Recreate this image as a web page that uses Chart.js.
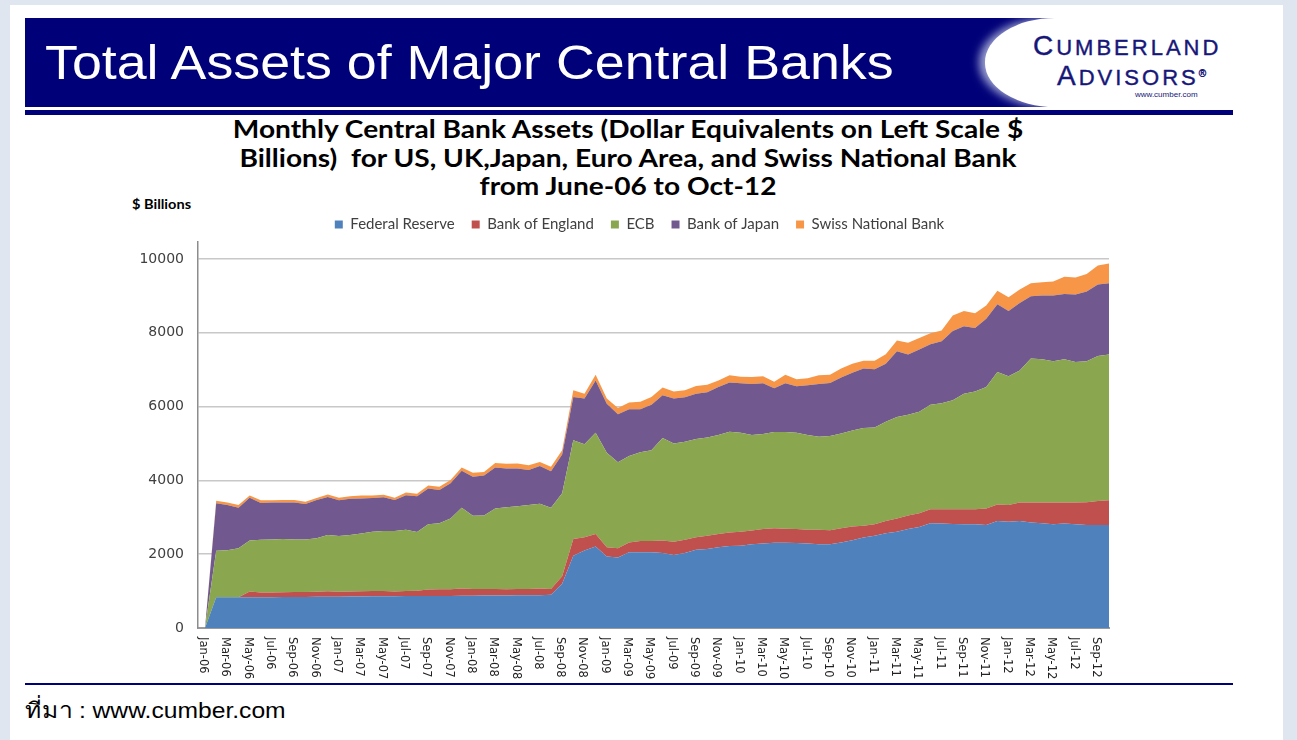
<!DOCTYPE html>
<html>
<head>
<meta charset="utf-8">
<script src="https://cdn.jsdelivr.net/npm/chart.js@4.4.1/dist/chart.umd.min.js"></script>
<style>
  body { margin: 0; width: 1297px; height: 740px; overflow: hidden; position: relative; background: #dfe6ef; }
  .abs { position: absolute; }
  #slide { left: 10px; top: 5px; width: 1273px; height: 740px; background: #fff; }
  #banner { left: 25px; top: 18px; width: 1212px; height: 89px; background: #000078; overflow: hidden; }
  #bannerText { left: 20px; top: 21px; font: 48px "Liberation Sans", Arial, sans-serif; line-height: 48px; color: #fff; white-space: nowrap; transform: scaleX(1.12); transform-origin: left center; }
  #logo { left: 960px; top: 0px; width: 260px; height: 89px; background: #fff; border-radius: 70px 0 0 70px / 44px 0 0 44px; box-shadow: -6px 0 8px #9aa0d0; }
  .logoLine { font-family: "Liberation Sans", Arial, sans-serif; color: #17177a; letter-spacing: 3px; white-space: nowrap; -webkit-text-stroke: 0.4px #17177a; }
  #navyBar { left: 25px; top: 110px; width: 1208px; height: 5px; background: #000078; }
  #bottomLine { left: 25px; top: 683px; width: 1208px; height: 2px; background: #000078; }
  #footer { left: 25px; top: 693px; font: 22px "Liberation Sans", Arial, sans-serif; color: #000; transform: scaleX(1.12); transform-origin: left center; white-space: nowrap; }
  #chartTitle { left: 178px; top: 115px; width: 900px; text-align: center; font: bold 24px Lato, sans-serif; line-height: 28.5px; color: #000; transform: scaleX(1.17); transform-origin: 450px 0; white-space: nowrap; }
  #yTitle { left: 132px; top: 196px; font: bold 13px Lato, sans-serif; color: #000; transform: scaleX(1.12); transform-origin: left center; white-space: nowrap; }
  #chartBox { left: 100px; top: 200px; width: 1040px; height: 484px; }
</style>
</head>
<body>
<div id="slide" class="abs"></div>
<div id="banner" class="abs">
  <div id="bannerText" class="abs">Total Assets of Major Central Banks</div>
  <div id="logo" class="abs">
    <div class="abs logoLine" style="left:48px; top:12px; font-size:22px;"><span style="font-size:28px">C</span>UMBERLAND</div>
    <div class="abs logoLine" style="left:72px; top:42px; font-size:22px;"><span style="font-size:28px">A</span>DVISORS<sup style="font-size:10px; letter-spacing:0">®</sup></div>
    <div class="abs" style="left:150px; top:72px; font: 8px 'Liberation Sans', Arial, sans-serif; color:#17177a;">www.cumber.com</div>
  </div>
</div>
<div id="navyBar" class="abs"></div>
<div id="chartTitle" class="abs">Monthly Central Bank Assets (Dollar Equivalents on Left Scale $<br>Billions)&nbsp; for US, UK,Japan, Euro Area, and Swiss National Bank<br>from June-06 to Oct-12</div>
<div id="yTitle" class="abs">$ Billions</div>
<div id="chartBox" class="abs"><canvas id="assetsChart"></canvas></div>
<div id="bottomLine" class="abs"></div>
<div id="footer" class="abs">ที่มา : www.cumber.com</div>

<script>
// month labels, Jan-06 .. Oct-12
var labels = [
  'Jan-06','Feb-06','Mar-06','Apr-06','May-06','Jun-06','Jul-06','Aug-06','Sep-06','Oct-06','Nov-06','Dec-06',
  'Jan-07','Feb-07','Mar-07','Apr-07','May-07','Jun-07','Jul-07','Aug-07','Sep-07','Oct-07','Nov-07','Dec-07',
  'Jan-08','Feb-08','Mar-08','Apr-08','May-08','Jun-08','Jul-08','Aug-08','Sep-08','Oct-08','Nov-08','Dec-08',
  'Jan-09','Feb-09','Mar-09','Apr-09','May-09','Jun-09','Jul-09','Aug-09','Sep-09','Oct-09','Nov-09','Dec-09',
  'Jan-10','Feb-10','Mar-10','Apr-10','May-10','Jun-10','Jul-10','Aug-10','Sep-10','Oct-10','Nov-10','Dec-10',
  'Jan-11','Feb-11','Mar-11','Apr-11','May-11','Jun-11','Jul-11','Aug-11','Sep-11','Oct-11','Nov-11','Dec-11',
  'Jan-12','Feb-12','Mar-12','Apr-12','May-12','Jun-12','Jul-12','Aug-12','Sep-12','Oct-12'
];

// $ billions
var fed = [
  0,830,830,830,835,835,835,840,840,840,845,850,
  850,855,855,860,860,860,865,865,870,870,870,875,
  875,880,880,880,885,885,890,900,1200,1960,2100,2210,
  1940,1910,2050,2050,2050,2030,1980,2030,2120,2140,2190,2220,
  2230,2270,2290,2310,2310,2300,2290,2270,2270,2320,2380,2450,
  2500,2570,2610,2680,2740,2840,2830,2820,2810,2810,2790,2900,
  2880,2900,2860,2840,2810,2830,2810,2790,2790,2790
];
var boe = [
  0,0,0,0,155,130,130,130,135,135,140,145,
  135,135,140,140,140,130,140,145,170,180,180,195,
  185,180,180,170,170,175,180,160,200,450,360,340,
  250,250,270,310,310,340,360,360,340,360,360,370,
  380,370,390,390,380,380,370,390,380,380,370,320,
  310,330,360,370,370,380,390,400,410,410,450,450,
  450,500,540,560,590,570,590,620,650,670
];
var ecb = [
  0,1260,1280,1330,1380,1425,1435,1440,1425,1425,1445,1525,
  1505,1530,1565,1610,1630,1640,1655,1590,1770,1790,1920,2190,
  1980,1990,2180,2220,2245,2270,2300,2200,2250,2680,2520,2740,
  2560,2330,2340,2400,2460,2780,2660,2660,2660,2660,2680,2730,
  2680,2590,2580,2610,2620,2610,2570,2520,2550,2570,2600,2650,
  2620,2690,2750,2730,2750,2830,2870,2950,3130,3190,3290,3590,
  3490,3580,3900,3880,3830,3880,3810,3820,3930,3950
];
var boj = [
  0,1290,1220,1100,1160,1000,1000,990,1000,960,1040,1030,
  970,980,950,910,910,840,940,970,970,900,950,1000,
  1060,1080,1110,1050,1020,950,1020,990,1050,1170,1240,1420,
  1330,1300,1270,1170,1230,1160,1220,1200,1230,1230,1300,1330,
  1340,1380,1370,1190,1320,1260,1350,1430,1440,1520,1570,1610,
  1580,1570,1780,1630,1690,1640,1680,1880,1830,1720,1850,1830,
  1770,1830,1690,1730,1780,1770,1830,1890,1940,1930
];
var snb = [
  0,70,70,70,60,70,65,70,70,60,50,70,
  70,70,80,70,70,60,70,70,80,90,90,90,
  110,100,120,130,140,130,110,120,120,180,130,150,
  140,170,180,200,210,210,190,190,210,200,180,200,
  180,190,190,170,230,190,190,240,220,240,240,210,
  230,260,290,320,310,300,290,420,410,400,360,370,
  370,360,350,360,380,470,460,470,510,540
];

var seriesNames = ['Federal Reserve', 'Bank of England', 'ECB', 'Bank of Japan', 'Swiss National Bank'];
var seriesColors = ['#4f81bd', '#c0504d', '#8aa64f', '#71598f', '#f79646'];
var seriesData = [fed, boe, ecb, boj, snb];

function toPoints(values) {
  return values.map(function (v, i) { return { x: i, y: v }; });
}

var datasets = seriesData.map(function (values, k) {
  return {
    label: seriesNames[k],
    data: toPoints(values),
    backgroundColor: seriesColors[k],
    borderColor: seriesColors[k],
    borderWidth: 0,
    pointRadius: 0,
    tension: 0,
    fill: k === 0 ? 'origin' : '-1'
  };
});

// month labels drawn top-to-bottom like the Excel original,
// legend nudged right to sit where the original has it
var xLabelPlugin = {
  id: 'xLabels',
  afterLayout: function (chart) {
    chart.legend.left += 35;
    chart.legend.right += 35;
  },
  afterDraw: function (chart) {
    var ctx = chart.ctx;
    var xs = chart.scales.x;
    var area = chart.chartArea;
    ctx.save();
    ctx.font = '11.5px "DejaVu Sans"';
    ctx.fillStyle = '#222';
    ctx.textAlign = 'left';
    ctx.textBaseline = 'middle';
    for (var i = 0; i < labels.length; i += 2) {
      ctx.save();
      ctx.translate(xs.getPixelForValue(i) - 2, area.bottom + 9);
      ctx.rotate(Math.PI / 2);
      ctx.fillText(labels[i], 0, 0);
      ctx.restore();
    }
    ctx.restore();
  }
};

var ctx = document.getElementById('assetsChart').getContext('2d');

var myChart = new Chart(ctx, {
  type: 'line',
  data: { datasets: datasets },
  plugins: [xLabelPlugin],
  options: {
    responsive: true,
    maintainAspectRatio: false,
    animation: false,
    layout: { padding: { top: 0, right: 31, bottom: 48, left: 0 } },
    plugins: {
      legend: {
        position: 'top',
        labels: {
          boxWidth: 8,
          boxHeight: 8,
          padding: 17,
          color: '#404040',
          font: { family: 'Lato', size: 15 }
        }
      },
      tooltip: { enabled: false }
    },
    scales: {
      x: {
        type: 'linear',
        min: -0.63,
        max: 81,
        ticks: { display: false },
        grid: { display: false },
        border: { color: '#9a9a9a', width: 2 }
      },
      y: {
        stacked: true,
        min: 0,
        max: 10460,
        afterBuildTicks: function (axis) {
          axis.ticks = axis.ticks.filter(function (t) { return t.value % 2000 === 0; });
        },
        afterFit: function (scale) { scale.width = 98; },
        ticks: {
          padding: 14,
          color: '#404040',
          font: { family: 'DejaVu Sans', size: 14 },
          callback: function (value) { return String(value); }
        },
        grid: { color: '#c8c8c8', lineWidth: 1.5, drawTicks: false },
        border: { color: '#8c8c8c', width: 1.5 }
      }
    }
  }
});
</script>
</body>
</html>
